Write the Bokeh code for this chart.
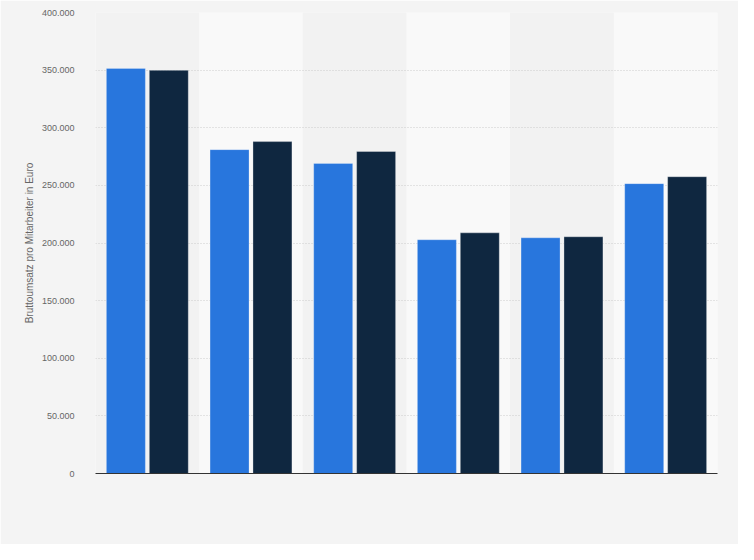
from bokeh.plotting import figure
from bokeh.models import Range1d, FixedTicker
from bokeh.embed import file_html
from bokeh.resources import INLINE

groups = [0, 1, 2, 3, 4, 5]
series_a = [351500, 281000, 269000, 202800, 204500, 251500]
series_b = [349800, 288000, 279400, 208800, 205400, 257500]
y_ticks = [0, 50000, 100000, 150000, 200000, 250000, 300000, 350000, 400000]
y_tick_labels = ["0", "50.000", "100.000", "150.000", "200.000", "250.000", "300.000", "350.000", "400.000"]
band_colors = ["#f2f2f2", "#f9f9f9", "#f2f2f2", "#f9f9f9", "#f2f2f2", "#f9f9f9"]

p = figure(width=738, height=544, output_backend="svg", toolbar_location=None,
           x_range=Range1d(-0.5, 5.5), y_range=Range1d(0, 400000),
           min_border_left=95, min_border_right=21, min_border_top=12, min_border_bottom=71)
p.background_fill_color = "#f4f4f4"
p.border_fill_color = "#f4f4f4"
p.outline_line_color = None

# alternating bands
p.vbar(x=groups, width=1.0, top=400000, bottom=0, fill_color=band_colors,
       line_color=None, level="image")

off = 0.207
bw = 0.376
p.vbar(x=[g - off for g in groups], width=bw, top=series_a, bottom=0,
       fill_color="#2876dd", line_color="#ffffff", line_alpha=0.25, line_width=1)
p.vbar(x=[g + off for g in groups], width=bw, top=series_b, bottom=0,
       fill_color="#0f2740", line_color="#ffffff", line_alpha=0.3, line_width=1)

p.xgrid.visible = False
p.ygrid.ticker = FixedTicker(ticks=y_ticks)
p.ygrid.grid_line_color = "#cccccc"
p.ygrid.grid_line_dash = "1 2"
p.ygrid.level = "underlay"

p.xaxis.major_label_text_font_size = "0px"
p.xaxis.major_tick_line_color = None
p.xaxis.minor_tick_line_color = None
p.xaxis.axis_line_color = "#333333"
p.xaxis.axis_line_width = 1
p.xaxis.ticker = FixedTicker(ticks=[])

p.yaxis.ticker = FixedTicker(ticks=y_ticks)
p.yaxis.major_label_overrides = {t: l for t, l in zip(y_ticks, y_tick_labels)}
p.yaxis.axis_line_color = None
p.yaxis.major_tick_line_color = None
p.yaxis.minor_tick_line_color = None
p.yaxis.major_label_standoff = 15
p.yaxis.major_label_text_font = "Liberation Sans"
p.yaxis.major_label_text_font_size = "9px"
p.yaxis.major_label_text_color = "#666666"
p.yaxis.axis_label = "Bruttoumsatz pro Mitarbeiter in Euro"
p.yaxis.axis_label_text_font = "Liberation Sans"
p.yaxis.axis_label_text_font_size = "10px"
p.yaxis.axis_label_text_font_style = "normal"
p.yaxis.axis_label_text_color = "#666666"
p.yaxis.axis_label_standoff = 4

open("out.html", "w").write(file_html(p, INLINE))
